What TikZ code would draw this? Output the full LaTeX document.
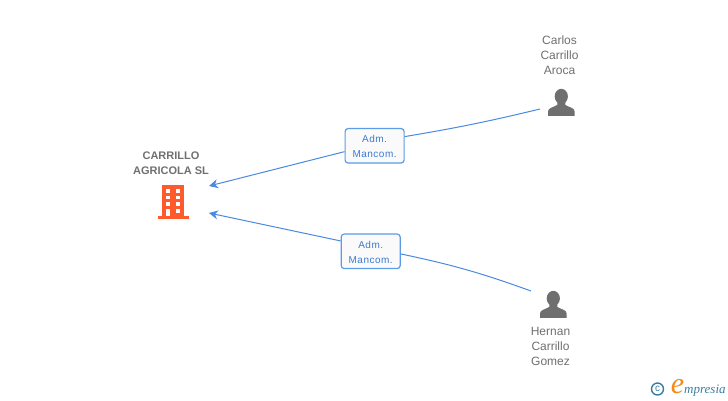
\documentclass[tikz,border=0pt]{standalone}
\usepackage{fontspec}
\setmainfont{Liberation Sans}
\newfontfamily\logofont{Liberation Serif}
\usepackage{xcolor}
\usetikzlibrary{arrows.meta,positioning,calc}
\definecolor{linkblue}{HTML}{4A8AE0}
\definecolor{boxblue}{HTML}{5C9BE6}
\definecolor{textblue}{HTML}{3C7AD0}
\definecolor{nameGray}{HTML}{707070}
\definecolor{iconGray}{HTML}{6F6F6F}
\definecolor{buildOrange}{HTML}{FF5A2C}
\definecolor{logoTeal}{HTML}{3A7F9F}
\definecolor{logoOrange}{HTML}{F28A1E}
\tikzset{
    rolebox/.style={draw=boxblue, line width=1.2pt, rounded corners=3pt, fill=white!96!gray,
        minimum width=59pt, minimum height=34.5pt, inner sep=0pt, align=center,
        text=textblue, font=\fontsize{10}{15}\selectfont\addfontfeature{LetterSpace=5}},
    personname/.style={align=center, text=nameGray, inner sep=0pt,
        font=\fontsize{12}{15}\selectfont},
    companyname/.style={align=center, text=nameGray, inner sep=0pt,
        font=\fontsize{11}{15}\selectfont\bfseries},
    link/.style={draw=linkblue, line width=1pt},
    person/.pic={
        \fill[iconGray] (0,0) ellipse (6.6 and 7.6);
        \fill[iconGray] (-13.3,19.5) -- (-13.3,15) .. controls (-13.3,11.5) and (-8,11) .. (-4,8.5)
            -- (-4,4) -- (4,4) -- (4,8.5) .. controls (8,11) and (13.3,11.5) .. (13.3,15) -- (13.3,19.5) -- cycle;
    }
}
\begin{document}
\begin{tikzpicture}[x=1pt,y=-1pt]
    \useasboundingbox (0,0) rectangle (728,400);
    \fill[white] (0,0) rectangle (728,400);

    % Company
    \node[companyname] (carrillo) at (171,163) {CARRILLO\\AGRICOLA SL};
    \fill[buildOrange] (162.3,185) rectangle (184,216);
    \fill[buildOrange] (157.5,216) rectangle (189,218.7); % Base
    \foreach \y in {189, 195.7, 202.3}
        \foreach \x in {165.7, 175.7}
            \fill[white] (\x,\y) rectangle (\x+4.3,\y+3.7); % Windows
    \fill[white] (165.7,209) rectangle (170,216); % Door
    \fill[white] (175.7,209) rectangle (180,212.7);

    % People
    \node[personname] (carlos) at (559.5,55) {Carlos\\Carrillo\\Aroca};
    \pic at (561.3,96.4) {person};
    \node[personname] (hernan) at (550.5,346) {Hernan\\Carrillo\\Gomez};
    \pic at (553.3,298.4) {person};

    % Free ends of the links
    \coordinate (carlosEnd) at (540,109);
    \coordinate (hernanEnd) at (531,291);
    \coordinate (upperTip) at (209,186);
    \coordinate (lowerTip) at (209,213);

    % Roles
    \node[rolebox] (upperRole) at (374.6,145.8) {Adm.\\Mancom.\\[-17pt]};
    \node[rolebox] (lowerRole) at (370.7,251.3) {Adm.\\Mancom.\\[-17pt]};

    % Links
    \draw[link] (carlosEnd) to[bend left=2] (upperRole.17);
    \draw[link,-{Stealth[length=9pt,width=9pt]}] (upperRole.191) -- (upperTip);
    \draw[link] (hernanEnd) to[bend right=4] (lowerRole.-5);
    \draw[link,-{Stealth[length=9pt,width=9pt]}] (lowerRole.161) -- (lowerTip);

    % Logo
    \node[draw=logoTeal, line width=1.4pt, circle, minimum size=12pt, inner sep=0pt, text=logoTeal,
        font=\fontsize{10}{10}\selectfont] (copyright) at (657.5,389) {c};
    \node[text=logoOrange, inner sep=0pt, font=\logofont\itshape\fontsize{30}{30}\selectfont] (logoE) at (677.5,387) {e};
    \node[text=logoTeal, inner sep=0pt, anchor=west, font=\logofont\itshape\fontsize{13}{13}\selectfont] (logoText) at (684,390.5) {mpresia};
\end{tikzpicture}
\end{document}
